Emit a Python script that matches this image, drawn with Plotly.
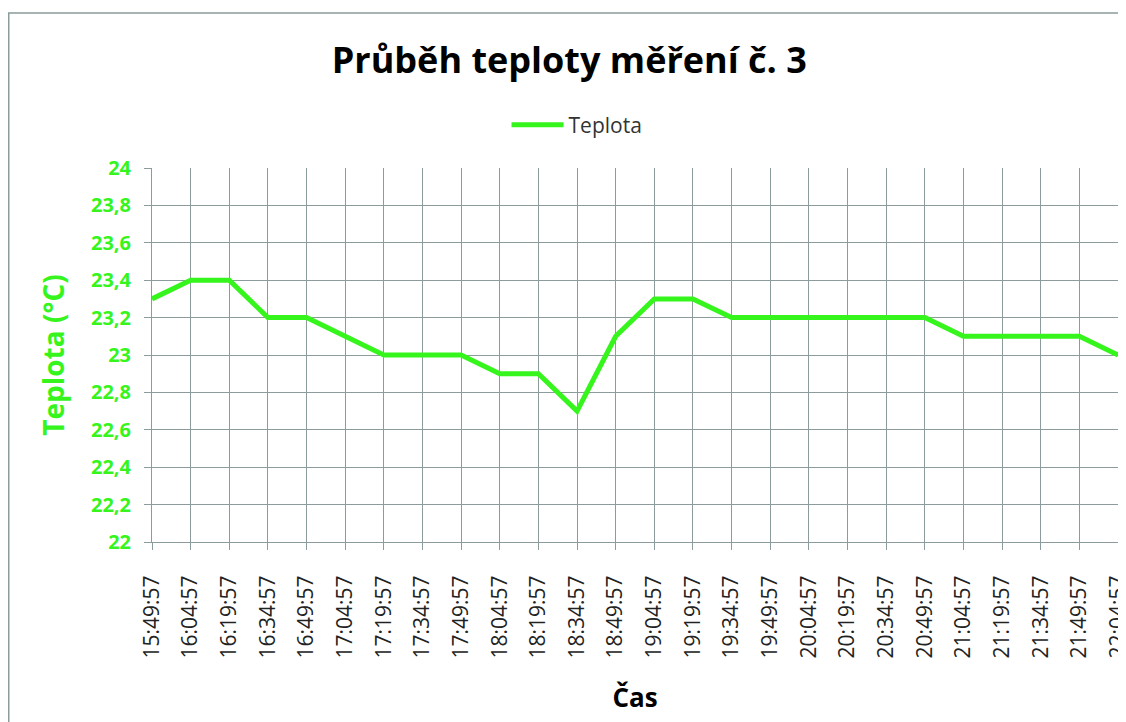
import plotly.graph_objects as go

times = ["15:49:57", "16:04:57", "16:19:57", "16:34:57", "16:49:57", "17:04:57",
         "17:19:57", "17:34:57", "17:49:57", "18:04:57", "18:19:57", "18:34:57",
         "18:49:57", "19:04:57", "19:19:57", "19:34:57", "19:49:57", "20:04:57",
         "20:19:57", "20:34:57", "20:49:57", "21:04:57", "21:19:57", "21:34:57",
         "21:49:57", "22:04:57"]
teplota = [23.3, 23.4, 23.4, 23.2, 23.2, 23.1, 23.0, 23.0, 23.0, 22.9, 22.9, 22.7,
           23.1, 23.3, 23.3, 23.2, 23.2, 23.2, 23.2, 23.2, 23.2, 23.1, 23.1, 23.1,
           23.1, 23.0]
y_tickvals = [22.0, 22.2, 22.4, 22.6, 22.8, 23.0, 23.2, 23.4, 23.6, 23.8, 24.0]
y_ticktext = ["22", "22,2", "22,4", "22,6", "22,8", "23", "23,2", "23,4", "23,6", "23,8", "24"]

GREEN = "#35f51c"
GRID = "#8c9b9b"
FONT = "Open Sans"

# page body has an 8px margin, so the figure is 8px smaller than the window
W, H = 1118, 714
L, R, T, B = 144, 8, 160, 180
PW, PH = W - L - R, H - T - B

fig = go.Figure()
fig.add_trace(go.Scatter(
    x=times, y=teplota, mode="lines", name="Teplota",
    line=dict(color=GREEN, width=5),
))

fig.update_layout(
    width=W, height=H,
    margin=dict(l=L, r=R, t=T, b=B, autoexpand=False),
    paper_bgcolor="white", plot_bgcolor="white",
    title=dict(text="<b>Průběh teploty měření č. 3</b>", x=0.502, xanchor="center",
               y=1 - 52 / H, yanchor="middle",
               font=dict(family=FONT, size=36, color="black")),
    showlegend=True,
    legend=dict(x=0.44, xanchor="center", y=1.115, yanchor="middle",
                font=dict(family=FONT, size=21, color="#333333"),
                bgcolor="rgba(0,0,0,0)", itemwidth=52),
    font=dict(family=FONT),
)

fig.update_xaxes(
    type="category", range=[0, len(times) - 1], automargin=False,
    showgrid=True, gridcolor=GRID, gridwidth=1,
    showline=True, linecolor=GRID, linewidth=1,
    ticks="outside", ticklen=7, tickcolor=GRID, ticklabelstandoff=17,
    tickangle=-90, tickfont=dict(family=FONT, size=21, color="#222222"),
    title=dict(text="<b>Čas</b>", font=dict(family=FONT, size=26, color="black"), standoff=31),
    zeroline=False,
)
fig.update_yaxes(
    range=[22, 24], tickmode="array", tickvals=y_tickvals, ticktext=y_ticktext,
    automargin=False,
    showgrid=True, gridcolor=GRID, gridwidth=1,
    showline=True, linecolor=GRID, linewidth=1,
    ticks="outside", ticklen=7, tickcolor=GRID, ticklabelstandoff=9,
    tickfont=dict(family=FONT, size=20, color=GREEN, weight="bold"),
    title=dict(text="<b>Teplota (°C)</b>", font=dict(family=FONT, size=28, color=GREEN), standoff=18),
    zeroline=False,
)

fig.add_shape(type="rect", xref="paper", yref="paper",
              x0=(0.75 - L) / PW, x1=(W + 20 - L) / PW,
              y0=(PH + T - (H + 20)) / PH, y1=(PH + T - 5) / PH,
              line=dict(color=GRID, width=1.5), fillcolor="rgba(0,0,0,0)", layer="below")

fig.write_html("out.html")
